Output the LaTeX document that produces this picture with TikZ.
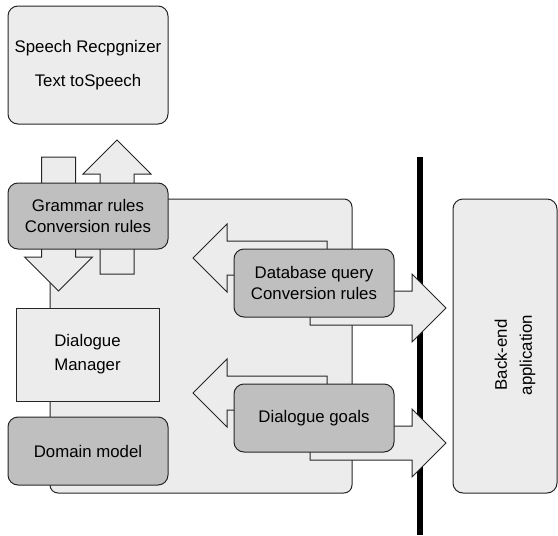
\documentclass[tikz,border=0pt]{standalone}
\usepackage{fontspec}
\setmainfont{Liberation Sans}
\usetikzlibrary{calc}
\pgfdeclarelayer{back}
\pgfdeclarelayer{mid}
\pgfsetlayers{back,mid,main}
\definecolor{paleGray}{HTML}{ECECEC}
\definecolor{ruleGray}{HTML}{BFBFBF}
\definecolor{edgeGray}{HTML}{262626}
\tikzset{
  pale/.style={draw=edgeGray, fill=paleGray, line width=1pt, rounded corners=10pt, align=center, inner sep=0pt},
  rulebox/.style={pale, fill=ruleGray, minimum width=160pt, minimum height=68pt},
  hollow/.style={draw=edgeGray, fill=paleGray, line width=1pt},
  pics/blockarrow/.style={code={
    \draw[hollow] (0,-17) -- ({#1-34},-17) -- ({#1-34},-34) -- (#1,0)
      -- ({#1-34},34) -- ({#1-34},17) -- (0,17) -- cycle;
  }}
}
\begin{document}
\begin{tikzpicture}[x=1pt, y=-1pt, font=\fontsize{16.8}{21}\selectfont]
\useasboundingbox (0,0) rectangle (558,536);
% speech front end
\node[pale, minimum width=160pt, minimum height=118pt] (speech) at (88,65) {Speech Recpgnizer\\[13pt]Text toSpeech};
\node[rulebox, minimum height=66pt] (grammar) at (88,216) {Grammar rules\\Conversion rules};
% dialogue manager
\node[pale, sharp corners, minimum width=143pt, minimum height=93pt] (manager) at (87.5,354.5) {Dialogue\\[3pt]Manager};
\node[rulebox] (domain) at (88,451) {Domain model};
\node[rulebox] (dbquery) at (314,283) {Database query\\Conversion rules};
\node[rulebox] (goals) at (314,418) {Dialogue goals};
% back end
\node[pale, minimum width=104pt, minimum height=294pt,
  label={[rotate=90, align=center, xshift=-9pt, yshift=-10pt]center:Back-end\\[4pt]application}] (backend) at (505,346) {};
\begin{pgfonlayer}{back}
  \draw[pale, rounded corners=8pt] (50,199) rectangle (352,493);
\end{pgfonlayer}
\begin{pgfonlayer}{mid}
  \draw[line width=6pt] (420,157) -- (420,535);
  % up and down
  \pic[rotate=90] at ($(grammar)+(29,58)$) {blockarrow=134};
  \pic[rotate=-90] at ($(grammar)+(-29.5,-59)$) {blockarrow=134};
  % in and out
  \foreach \n in {dbquery,goals}{
    \pic[rotate=180] at ($(\n)+(13,-25)$) {blockarrow=134};
    \pic at ($(\n)+(-4,25)$) {blockarrow=136};
  }
\end{pgfonlayer}
\end{tikzpicture}
\end{document}
